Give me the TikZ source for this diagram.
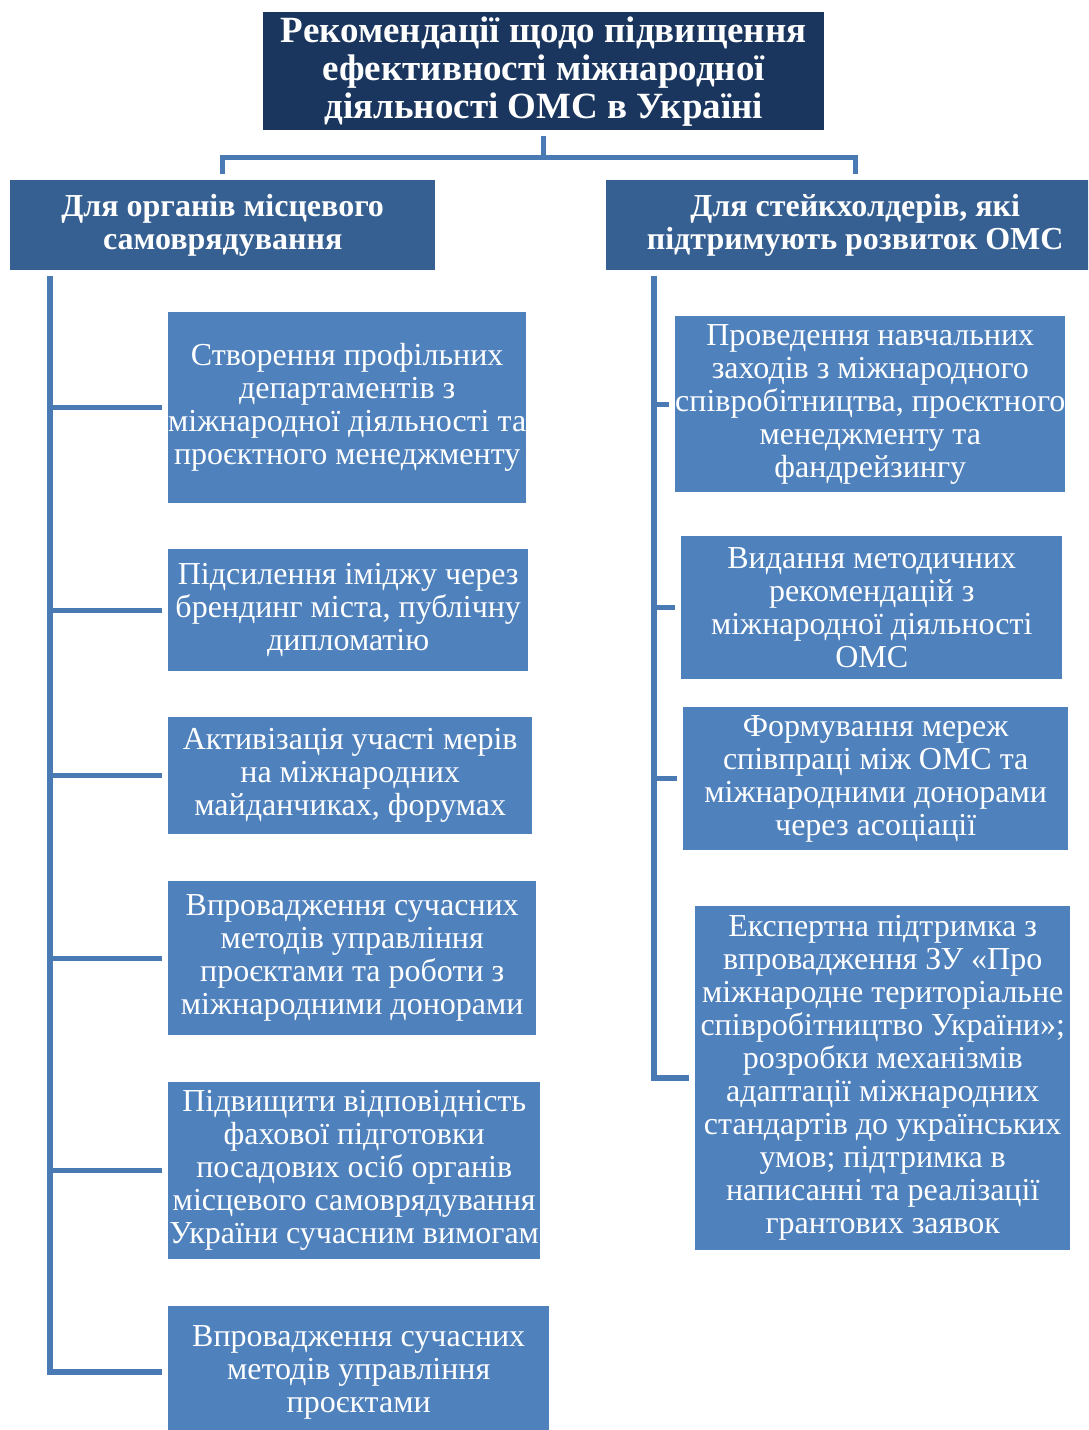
\documentclass[tikz,border=0pt]{standalone}
\usepackage{fontspec}
\setmainfont{Liberation Serif}
\definecolor{navy}{HTML}{1A365E}
\definecolor{hdrc}{HTML}{376092}
\definecolor{boxc}{HTML}{4F81BD}
\definecolor{linec}{HTML}{4A7AB4}
\tikzset{
  basebox/.style={rectangle, anchor=north west, inner xsep=0pt, inner ysep=0pt, align=center, text=white},
  titlebox/.style={basebox, fill=navy, font=\fontsize{37}{38}\selectfont\bfseries},
  hdrbox/.style={basebox, fill=hdrc, font=\fontsize{32}{33}\selectfont\bfseries},
  itembox/.style={basebox, fill=boxc, font=\fontsize{32}{33}\selectfont},
  conn/.style={draw=linec, line width=5pt},
  spine/.style={draw=linec, line width=6pt}
}
\begin{document}
\begin{tikzpicture}[x=1pt,y=-1pt]
\useasboundingbox (0,0) rectangle (1088,1430);
\clip (0,0) rectangle (1088,1430);

\node[titlebox, minimum width=561pt, minimum height=118pt] (title) at (263,12)
  {Рекомендації щодо підвищення\\ефективності міжнародної\\діяльності ОМС в Україні};

\node[hdrbox, minimum width=425pt, minimum height=90pt] (hL) at (10,180)
  {Для органів місцевого\\самоврядування};
\node[hdrbox, minimum width=498pt, minimum height=90pt] (hR) at (606,180)
  {Для стейкхолдерів, які\\підтримують розвиток ОМС};

% left column
\node[itembox, minimum width=356pt, minimum height=191pt] (L1) at (168,312)
  {Створення профільних\\департаментів з\\міжнародної діяльності та\\проєктного менеджменту};
\node[itembox, minimum width=360pt, minimum height=122pt] (L2) at (168,549)
  {Підсилення іміджу через\\брендинг міста, публічну\\дипломатію};
\node[itembox, minimum width=364pt, minimum height=117pt] (L3) at (168,717)
  {Активізація участі мерів\\на міжнародних\\майданчиках, форумах};
\node[itembox, minimum width=368pt, minimum height=154pt] (L4) at (168,881)
  {Впровадження сучасних\\методів управління\\проєктами та роботи з\\міжнародними донорами};
\node[itembox, minimum width=372pt, minimum height=177pt] (L5) at (168,1082)
  {Підвищити відповідність\\фахової підготовки\\посадових осіб органів\\місцевого самоврядування\\України сучасним вимогам};
\node[itembox, minimum width=381pt, minimum height=132pt] (L6) at (168,1306)
  {Впровадження сучасних\\методів управління\\проєктами};

% right column
\node[itembox, minimum width=389pt, minimum height=176pt] (R1) at (675,316)
  {Проведення навчальних\\заходів з міжнародного\\співробітництва, проєктного\\менеджменту та\\фандрейзингу};
\node[itembox, minimum width=381pt, minimum height=143pt] (R2) at (681,536)
  {Видання методичних\\рекомендацій з\\міжнародної діяльності\\ОМС};
\node[itembox, minimum width=385pt, minimum height=143pt] (R3) at (683,707)
  {Формування мереж\\співпраці між ОМС та\\міжнародними донорами\\через асоціації};
\node[itembox, minimum width=375pt, minimum height=344pt] (R4) at (695,906)
  {Експертна підтримка з\\впровадження ЗУ «Про\\міжнародне територіальне\\співробітництво України»;\\розробки механізмів\\адаптації міжнародних\\стандартів до українських\\умов; підтримка в\\написанні та реалізації\\грантових заявок};

% top connector
\draw[conn] ([yshift=-6pt]title.south) -- ++(0,21) coordinate (tmid) -| ([yshift=6pt]hL.north);
\draw[conn] (tmid) -| ([yshift=6pt]hR.north);

% left spine and branches
\coordinate (ls) at ([xshift=40pt,yshift=-6pt]hL.south west);
\draw[spine] (ls) |- ([xshift=-6pt]L6.west);
\foreach \n in {L1,L2,L3,L4,L5}
  \draw[conn] (ls |- \n.west) -- ([xshift=-6pt]\n.west);

% right spine and branches
\coordinate (rs) at ([xshift=48pt,yshift=-6pt]hR.south west);
\draw[spine] (rs) |- ([xshift=-6pt]R4.west);
\foreach \n in {R1,R2,R3}
  \draw[conn] (rs |- \n.west) -- ([xshift=-6pt]\n.west);
\end{tikzpicture}
\end{document}
